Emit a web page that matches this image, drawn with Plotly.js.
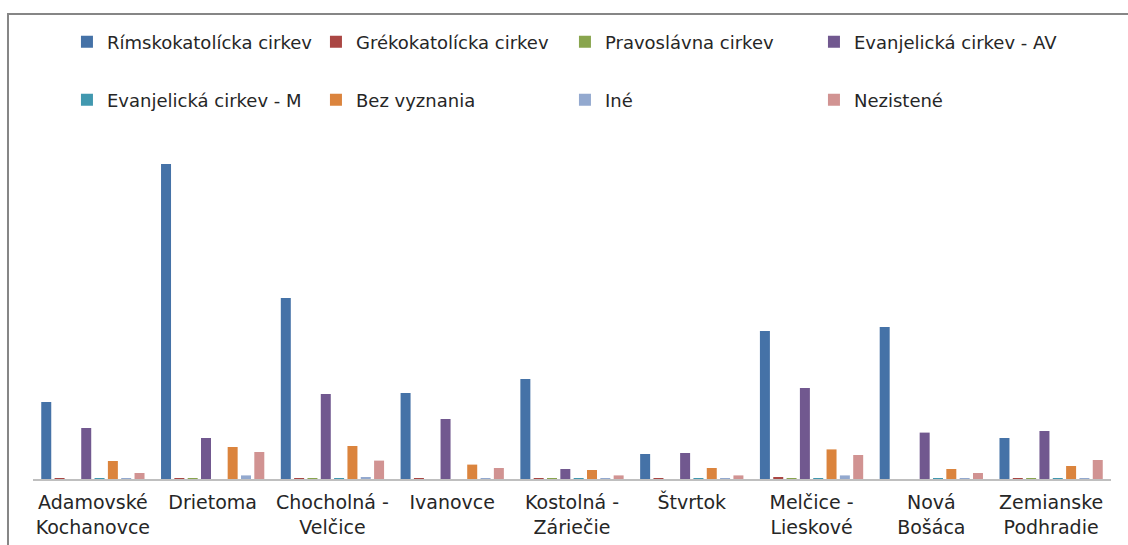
<!DOCTYPE html>
<html>
<head>
<meta charset="utf-8">
<script src="https://cdn.plot.ly/plotly-3.0.1.min.js"></script>
<style>html,body{margin:0;padding:0;background:#fff;}#chart{width:1128px;height:545px;}</style>
</head>
<body>
<div id="chart"></div>
<script>
const categories = ["Adamovské<br>Kochanovce", "Drietoma", "Chocholná -<br>Velčice", "Ivanovce", "Kostolná -<br>Záriečie", "Štvrtok", "Melčice -<br>Lieskové", "Nová<br>Bošáca", "Zemianske<br>Podhradie"];
const seriesNames = ["Rímskokatolícka cirkev", "Grékokatolícka cirkev", "Pravoslávna cirkev", "Evanjelická cirkev - AV", "Evanjelická cirkev - M", "Bez vyznania", "Iné", "Nezistené"];
const rimskokatolicka = [385, 1575, 905, 430, 500, 125, 740, 760, 205];
const grekokatolicka = [5, 5, 5, 5, 5, 5, 10, 0, 5];
const pravoslavna = [0, 5, 5, 0, 5, 0, 5, 0, 5];
const evanjelickaAV = [255, 205, 425, 300, 50, 130, 455, 232, 240];
const evanjelickaM = [5, 0, 5, 0, 5, 5, 5, 5, 5];
const bezVyznania = [90, 160, 165, 72, 45, 55, 148, 50, 65];
const ine = [5, 18, 10, 5, 5, 5, 18, 5, 5];
const nezistene = [30, 135, 92, 55, 18, 18, 120, 30, 95];

const allValues = [rimskokatolicka, grekokatolicka, pravoslavna, evanjelickaAV, evanjelickaM, bezVyznania, ine, nezistene];
const colors = ["#4572A7", "#AA4643", "#89A54E", "#71588F", "#4198AF", "#DB843D", "#93A9CF", "#D19392"];

const traces = allValues.map((vals, i) => ({
  type: "bar",
  name: seriesNames[i],
  x: categories,
  y: vals,
  marker: {color: colors[i], line: {width: 0}},
  legend: i < 4 ? "legend" : "legend2",
  hoverinfo: "x+y+name"
}));

const font = {family: "DejaVu Sans, sans-serif", size: 19, color: "#262626"};
const legendFont = {family: "DejaVu Sans, sans-serif", size: 18, color: "#262626"};
const legendCommon = {
  orientation: "h",
  entrywidth: 204,
  entrywidthmode: "pixels",
  xanchor: "left",
  yanchor: "middle",
  x: 0.0315,
  font: legendFont,
  bgcolor: "rgba(0,0,0,0)",
  traceorder: "normal"
};

const layout = {
  width: 1128,
  height: 545,
  margin: {l: 33, r: 17, t: 140, b: 66},
  paper_bgcolor: "#ffffff",
  plot_bgcolor: "#ffffff",
  barmode: "group",
  bargap: 0.11,
  bargroupgap: 0.25,
  font: font,
  showlegend: true,
  legend: Object.assign({}, legendCommon, {y: 1.289}),
  legend2: Object.assign({}, legendCommon, {y: 1.118}),
  xaxis: {
    type: "category",
    showline: true,
    linecolor: "#BFBFBF",
    linewidth: 2,
    ticks: "",
    showgrid: false,
    tickfont: font,
    ticklabelstandoff: 5,
    fixedrange: true
  },
  yaxis: {
    range: [0, 1695],
    showline: false,
    showgrid: false,
    zeroline: false,
    showticklabels: false,
    ticks: "",
    fixedrange: true
  },
  shapes: [{
    type: "rect",
    xref: "paper", yref: "paper",
    x0: -0.0232, x1: 1.05, y0: -0.3, y1: 1.3717,
    line: {color: "#868686", width: 2},
    fillcolor: "rgba(0,0,0,0)",
    layer: "below"
  }]
};

Plotly.newPlot("chart", traces, layout, {displayModeBar: false, staticPlot: true});
</script>
</body>
</html>
